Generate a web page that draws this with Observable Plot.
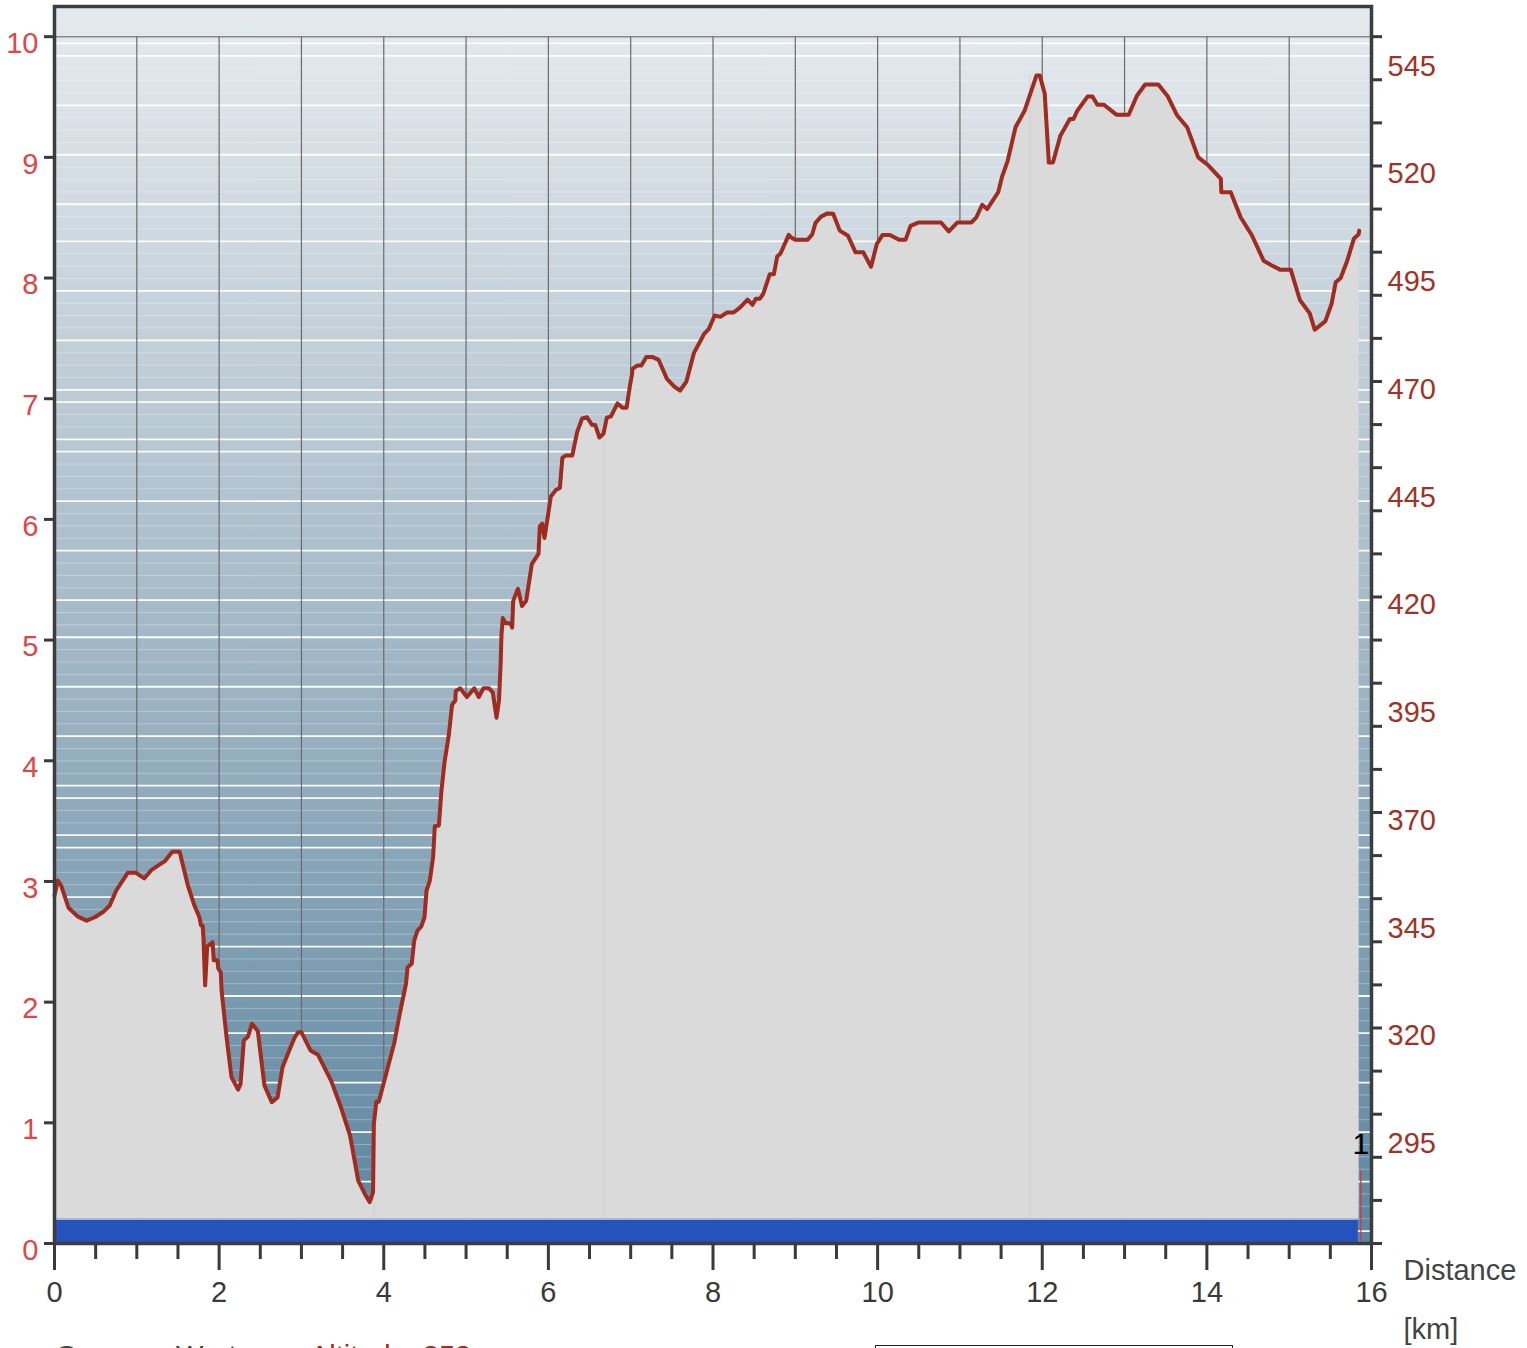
<!DOCTYPE html>
<html>
<head>
<meta charset="utf-8">
<script src="https://cdn.jsdelivr.net/npm/d3@7"></script>
<script src="https://cdn.jsdelivr.net/npm/@observablehq/plot@0.6"></script>
<style>
html, body { margin: 0; padding: 0; background: #fff; }
body { width: 1527px; height: 1348px; overflow: hidden; position: relative; font-family: "Liberation Sans", Arial, sans-serif; }
#chart { position: absolute; left: 0; top: 0; }
#legend { position: absolute; left: 0; top: 1342px; width: 1527px; height: 60px; font-size: 29px; line-height: 29px; }
#legend span { position: absolute; top: 0; white-space: nowrap; }
#legend .box { position: absolute; left: 875px; top: 3px; width: 356px; height: 50px; border: 1.5px solid #222; }
</style>
</head>
<body>
<div id="chart"></div>
<div id="legend">
  <span style="left:55px;color:#444;">Genauer Wert</span>
  <span style="left:310px;color:#a02c20;">Altitude: 353 m</span>
  <div class="box"></div>
</div>
<script>
// ---- data ----
const profileKm = [0.00,0.04,0.08,0.17,0.28,0.39,0.49,0.59,0.67,0.75,0.89,0.99,1.09,1.18,1.34,1.43,1.52,1.62,1.70,1.76,1.78,1.80,1.81,1.83,1.855,1.92,1.935,1.98,1.99,2.02,2.03,2.09,2.15,2.23,2.26,2.30,2.35,2.40,2.47,2.55,2.64,2.71,2.77,2.86,2.92,2.96,3.00,3.11,3.20,3.36,3.48,3.59,3.69,3.77,3.83,3.87,3.88,3.91,3.94,4.05,4.13,4.19,4.27,4.29,4.34,4.37,4.41,4.455,4.495,4.52,4.56,4.60,4.62,4.67,4.70,4.74,4.79,4.83,4.87,4.875,4.93,5.01,5.10,5.155,5.21,5.28,5.325,5.37,5.40,5.42,5.43,5.446,5.48,5.54,5.56,5.573,5.63,5.68,5.73,5.80,5.88,5.896,5.925,5.953,6.03,6.09,6.14,6.17,6.21,6.29,6.35,6.41,6.47,6.53,6.57,6.62,6.67,6.71,6.76,6.84,6.90,6.95,6.99,7.018,7.02,7.08,7.13,7.19,7.26,7.34,7.44,7.53,7.60,7.675,7.77,7.85,7.89,7.95,8.02,8.09,8.17,8.25,8.33,8.42,8.48,8.52,8.57,8.61,8.69,8.74,8.78,8.82,8.92,8.95,9.00,9.15,9.205,9.245,9.31,9.39,9.46,9.54,9.64,9.73,9.825,9.92,9.99,10.06,10.15,10.26,10.34,10.40,10.50,10.77,10.865,10.97,11.14,11.20,11.27,11.33,11.40,11.465,11.51,11.58,11.675,11.785,11.93,11.97,12.03,12.08,12.13,12.22,12.335,12.38,12.425,12.55,12.61,12.67,12.75,12.90,13.05,13.15,13.25,13.41,13.52,13.64,13.76,13.895,14.02,14.17,14.175,14.29,14.41,14.55,14.69,14.79,14.895,15.02,15.13,15.25,15.31,15.44,15.515,15.565,15.625,15.705,15.785,15.845,15.85];
const profileAlt = [350.7,354.2,353.1,347.9,345.9,344.9,345.7,346.9,348.4,351.9,356.0,356.0,354.7,356.7,358.7,360.9,360.9,353.1,348.4,345.7,343.8,343.8,340.8,329.9,338.9,339.9,335.7,335.7,333.8,332.9,328.7,317.9,308.6,305.7,307.0,317.1,318.0,321.0,319.3,306.7,302.8,303.9,310.9,315.2,317.9,319.0,319.0,314.8,313.8,307.8,301.6,295.1,284.6,281.5,279.6,281.9,297.8,302.9,302.9,310.9,316.7,322.9,330.2,334.1,334.9,340.3,342.6,343.5,345.7,351.9,354.2,359.7,366.8,367.0,374.9,381.9,387.9,395.0,396.0,398.2,398.8,396.8,398.8,396.8,398.8,398.8,397.8,392.0,396.0,404.5,411.1,415.1,413.9,413.9,412.9,419.1,421.9,417.9,419.1,427.7,430.0,436.4,437.0,433.7,443.3,444.8,445.3,452.3,452.8,452.8,458.3,461.4,461.7,459.9,459.9,457.0,457.9,461.6,461.9,464.9,463.9,463.9,468.9,471.9,472.9,473.7,473.7,475.7,475.7,475.0,470.6,468.8,467.9,469.9,476.7,479.5,481.0,482.2,485.3,485.0,486.0,486.0,487.2,489.0,487.8,489.2,489.2,490.3,494.9,494.9,499.0,499.7,504.0,503.4,502.9,502.9,504.1,506.8,508.2,509.0,508.9,505.0,503.8,500.0,500.0,496.6,501.9,504.0,504.0,502.9,502.9,506.1,506.9,506.9,504.8,506.9,506.9,508.1,511.0,510.0,512.0,513.9,517.4,521.2,529.0,532.8,541.0,541.0,536.8,520.8,520.8,527.0,530.9,530.9,532.8,536.1,536.1,534.2,534.2,531.9,531.9,536.3,538.9,538.9,536.3,531.7,529.0,522.0,520.1,517.0,513.9,513.9,508.1,503.8,498.0,496.9,495.9,495.9,488.9,485.8,482.0,484.0,488.0,493.0,494.0,498.0,503.1,504.2,505.0];

const leftTicks = [0,1,2,3,4,5,6,7,8,9,10];
const rightTicks = [270,280,290,300,310,320,330,340,350,360,370,380,390,400,410,420,430,440,450,460,470,480,490,500,510,520,530,540,550];
const rightLabels = [295,320,345,370,395,420,445,470,495,520,545];
const xMajor = [0,2,4,6,8,10,12,14,16];
const xMinor = [0.5,1,1.5,2.5,3,3.5,4.5,5,5.5,6.5,7,7.5,8.5,9,9.5,10.5,11,11.5,12.5,13,13.5,14.5,15,15.5];
const gridKm = [1,2,3,4,5,6,7,8,9,10,11,12,13,14,15];
const barStartKm = 0;
const barEndKm = 15.84;
const barHeightLeft = 0.2;
const markerKm = 15.87;
const markerLabel = "1";
const markerHeightLeft = 0.6;
const seamKm = [3.88, 6.67, 11.85];
const strongStripes = [0,1,5,9,13,16,20,24,28,29,32,33,37,41,45,48,52,56,60,61,64,65,69,73,77,80,84,88,92,96];

// ---- helpers ----
const altBase = 270, altPerUnit = 28;       // left axis 0..10 <-> altitude 270..550
const toAlt = v => altBase + altPerUnit * v;
const barTop = toAlt(barHeightLeft);
const profile = profileKm.map((k, i) => ({km: k, alt: profileAlt[i]}));
const bis = d3.bisector(d => d.km).left;
const seams = seamKm.map(k => ({km: k, alt: profile[Math.min(bis(profile, k), profile.length - 1)].alt}));
const stripes = d3.range(0, 97).map(k => ({alt: toAlt(9.944 - 0.10251 * k), strong: strongStripes.includes(k)}));

const font = '"Liberation Sans", Arial, sans-serif';

const plot = Plot.plot({
  width: 1527,
  height: 1342,
  marginTop: 6,
  marginBottom: 99,
  marginLeft: 54,
  marginRight: 156,
  x: {domain: [0, 16]},
  y: {domain: [270, 557]},
  style: {fontFamily: font, background: "#fff", overflow: "visible"},
  marks: [
    Plot.frame({fill: "url(#bgGrad)"}),
    Plot.ruleY(stripes.filter(d => !d.strong), {y: "alt", stroke: "#fff", strokeOpacity: 0.3, strokeWidth: 1}),
    Plot.ruleY(stripes.filter(d => d.strong), {y: "alt", stroke: "#fff", strokeOpacity: 0.95, strokeWidth: 1.8}),
    Plot.ruleY([toAlt(10)], {stroke: "#8a8a8a", strokeWidth: 1.5}),
    Plot.ruleX(gridKm, {y1: toAlt(0), y2: toAlt(10), stroke: "#6b6b6b", strokeWidth: 1.2}),
    Plot.areaY(profile, {x: "km", y1: barTop, y2: "alt", fill: "#dadada"}),
    Plot.ruleX(seams, {x: "km", y1: barTop, y2: "alt", stroke: "#cfcfd2", strokeWidth: 1}),
    Plot.rect([{x1: barStartKm, x2: barEndKm, y1: toAlt(0), y2: barTop}], {x1: "x1", x2: "x2", y1: "y1", y2: "y2", fill: "#2552bb"}),
    Plot.ruleY([barTop], {x1: barStartKm, x2: barEndKm, stroke: "#b9c3d9", strokeWidth: 1}),
    Plot.line(profile, {x: "km", y: "alt", stroke: "#a02c20", strokeWidth: 4, strokeLinejoin: "round"}),
    Plot.ruleX([markerKm], {y1: toAlt(0.02), y2: toAlt(markerHeightLeft), stroke: "#e03030", strokeWidth: 1.2}),
    Plot.text([markerLabel], {x: markerKm, y: toAlt(markerHeightLeft), dy: -27, text: d => d, fontSize: 30, fill: "#000"}),
    Plot.frame({stroke: "#3d3d3d", strokeWidth: 3.5}),
    Plot.axisX({ticks: xMajor, tickSize: 27, tickPadding: 11, fontSize: 29, stroke: "#3a3a3a", fill: "#3a3a3a", strokeWidth: 3, label: null, tickFormat: d => String(d)}),
    Plot.axisX({ticks: xMinor, tickSize: 16, fill: "none", stroke: "#3a3a3a", strokeWidth: 3, label: null}),
    Plot.axisY({anchor: "left", ticks: leftTicks.map(toAlt), tickSize: 10, fill: "none", stroke: "#3a3a3a", strokeWidth: 3, label: null}),
    Plot.axisY({anchor: "right", ticks: rightTicks, tickSize: 10, fill: "none", stroke: "#3a3a3a", strokeWidth: 3, label: null}),
    Plot.text(leftTicks, {x: 0, y: d => toAlt(d), text: d => String(d), dx: -16, dy: 7, textAnchor: "end", fill: "#e04646", fontSize: 29}),
    Plot.text(rightLabels, {x: 16, y: d => d, text: d => String(d), dx: 16, dy: 8, textAnchor: "start", fill: "#a33226", fontSize: 29}),
    Plot.text(["Distance"], {x: 16, y: 270, text: d => d, dx: 32, dy: 27, textAnchor: "start", fill: "#444", fontSize: 29}),
    Plot.text(["[km]"], {x: 16, y: 270, text: d => d, dx: 32, dy: 86, textAnchor: "start", fill: "#444", fontSize: 29})
  ]
});

const svg = plot.tagName.toLowerCase() === "svg" ? plot : plot.querySelector("svg");
const defs = d3.select(svg).insert("defs", ":first-child");
const grad = defs.append("linearGradient").attr("id", "bgGrad").attr("x1", 0).attr("y1", 0).attr("x2", 0).attr("y2", 1);
grad.append("stop").attr("offset", "0%").attr("stop-color", "#e6eaef");
grad.append("stop").attr("offset", "50%").attr("stop-color", "#a4b9c7");
grad.append("stop").attr("offset", "100%").attr("stop-color", "#5c859f");

document.getElementById("chart").appendChild(plot);
</script>
</body>
</html>
